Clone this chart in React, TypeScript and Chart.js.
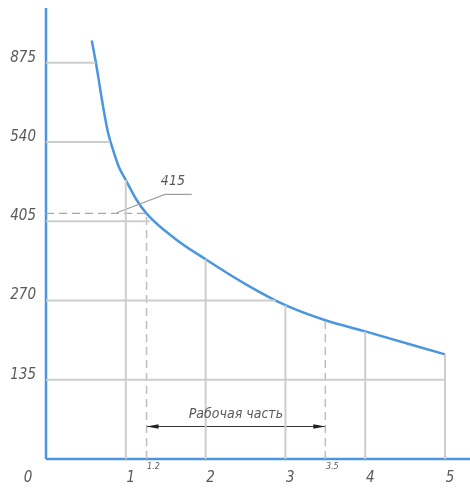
import React, { useEffect, useRef } from "react";
import { Chart, registerables } from "chart.js";

Chart.register(...registerables);

// X axis ticks (units along the horizontal axis)
const xTicks = [0, 1, 2, 3, 4, 5];
const xTickLabels = ["0", "1", "2", "3", "4", "5"];
// Y axis: equally spaced levels with their printed values
const yLevels = [1, 2, 3, 4, 5];
const yTickLabels = ["135", "270", "405", "540", "875"];

// Main curve (x in axis units, y in level units)
const curveX = [0.573, 0.627, 0.677, 0.727, 0.777, 0.84, 0.915, 1.0, 1.128, 1.266, 1.617, 2.0, 2.494, 3.0, 3.5, 4.0, 5.0];
const curveY = [5.28, 4.99, 4.68, 4.38, 4.12, 3.9, 3.68, 3.52, 3.28, 3.09, 2.78, 2.52, 2.21, 1.94, 1.75, 1.61, 1.32];

// Horizontal reference lines: level -> x where they stop
const hLineLevels = [1, 2, 3, 4, 5];
const hLineEnds = [5.0, 2.88, 1.3, 0.8, 0.62];
// Vertical reference lines: x -> height where they stop (on the curve)
const vLineX = [1, 2, 3, 4, 5];
const vLineTops = [3.52, 2.52, 1.94, 1.61, 1.32];

// Working part markers (dashed)
const markX = [1.26, 3.5];
const markTops = [3.1, 1.75];
const markLabels = ["1.2", "3.5"];
const level415 = 3.1;
const label415 = "415";
const leaderX = [0.886, 1.491, 1.826];
const leaderY = [3.106, 3.338, 3.338];
const arrowLevel = 0.41;
const workLabel = "Рабочая часть";

const X_MAX = 5.313;
const Y_MAX = 5.69;

const GRID = "#cdcdcd";
const BLUE = "#4a96df";
const TEXT = "#5a5a5a";

function seg(points: { x: number; y: number }[], color: string, width: number, dash: number[] = []) {
  return {
    type: "line" as const,
    data: points,
    borderColor: color,
    borderWidth: width,
    borderDash: dash,
    pointRadius: 0,
    fill: false,
    tension: 0,
    clip: false as any,
  };
}

export default function App() {
  const ref = useRef<HTMLCanvasElement>(null);

  useEffect(() => {
    if (!ref.current) return;
    const datasets: any[] = [];

    hLineLevels.forEach((lv, i) => {
      datasets.push(seg([{ x: 0, y: lv }, { x: hLineEnds[i], y: lv }], GRID, 2));
    });
    vLineX.forEach((vx, i) => {
      datasets.push(seg([{ x: vx, y: 0 }, { x: vx, y: vLineTops[i] }], GRID, 2));
    });
    markX.forEach((mx, i) => {
      datasets.push(seg([{ x: mx, y: 0 }, { x: mx, y: markTops[i] }], "#bdbdbd", 1.5, [8, 5]));
    });
    datasets.push(seg([{ x: 0, y: level415 }, { x: markX[0], y: level415 }], "#a8a8a8", 1.2, [8, 5]));
    datasets.push(seg(leaderX.map((x, i) => ({ x, y: leaderY[i] })), "#a0a0a0", 1.2));
    datasets.push(seg([{ x: markX[0], y: arrowLevel }, { x: markX[1], y: arrowLevel }], "#333", 1));
    // axes
    datasets.push(seg([{ x: 0, y: 0 }, { x: 0, y: Y_MAX }], BLUE, 2.5));
    datasets.push(seg([{ x: 0, y: 0 }, { x: X_MAX, y: 0 }], BLUE, 2.5));
    // curve
    datasets.push({
      type: "line",
      data: curveX.map((x, i) => ({ x, y: curveY[i] })),
      borderColor: BLUE,
      borderWidth: 2.5,
      pointRadius: 0,
      fill: false,
      cubicInterpolationMode: "monotone",
      clip: false,
    });

    const labelsPlugin = {
      id: "labels",
      afterDatasetsDraw(chart: any) {
        const { ctx, scales } = chart;
        const xs = scales.x;
        const ys = scales.y;
        const font = (s: number) => `italic ${s}px "DejaVu Sans Condensed", "Liberation Sans Narrow", "Liberation Sans", sans-serif`;
        ctx.save();
        ctx.fillStyle = TEXT;
        // y labels
        ctx.font = font(15);
        ctx.textAlign = "right";
        ctx.textBaseline = "alphabetic";
        yLevels.forEach((lv, i) => {
          ctx.fillText(yTickLabels[i], 36, ys.getPixelForValue(lv) - 1);
        });
        // x labels
        ctx.textAlign = "center";
        ctx.textBaseline = "middle";
        xTicks.forEach((v, i) => {
          const off = v === 0 ? -18 : 5;
          ctx.fillText(xTickLabels[i], xs.getPixelForValue(v) + off, ys.getPixelForValue(0) + 19);
        });
        // small marker labels
        ctx.font = font(9);
        markX.forEach((mx, i) => {
          ctx.fillText(markLabels[i], xs.getPixelForValue(mx) + 7, ys.getPixelForValue(0) + 8);
        });
        // 415 label
        ctx.font = font(14);
        ctx.fillText(label415, xs.getPixelForValue(1.59), ys.getPixelForValue(leaderY[1]) - 13);
        // working part label
        ctx.font = font(14);
        const ax0 = xs.getPixelForValue(markX[0]);
        const ax1 = xs.getPixelForValue(markX[1]);
        const ay = ys.getPixelForValue(arrowLevel);
        ctx.fillText(workLabel, (ax0 + ax1) / 2, ay - 12);
        // arrow heads
        ctx.fillStyle = "#222";
        ctx.beginPath();
        ctx.moveTo(ax0, ay);
        ctx.lineTo(ax0 + 12, ay - 2.2);
        ctx.lineTo(ax0 + 12, ay + 2.2);
        ctx.closePath();
        ctx.fill();
        ctx.beginPath();
        ctx.moveTo(ax1, ay);
        ctx.lineTo(ax1 - 12, ay - 2.2);
        ctx.lineTo(ax1 - 12, ay + 2.2);
        ctx.closePath();
        ctx.fill();
        ctx.restore();
      },
    };

    const chart = new Chart(ref.current, {
      type: "line",
      data: { datasets },
      options: {
        animation: false,
        responsive: false,
        maintainAspectRatio: false,
        layout: { padding: { left: 46, right: 0, top: 8, bottom: 29 } },
        plugins: { legend: { display: false }, tooltip: { enabled: false } },
        scales: {
          x: { type: "linear", min: 0, max: X_MAX, display: false },
          y: { type: "linear", min: 0, max: Y_MAX, display: false },
        },
      },
      plugins: [labelsPlugin],
    });
    return () => chart.destroy();
  }, []);

  return (
    <div style={{ position: "absolute", left: 0, top: 0, width: 470, height: 488, background: "#fff" }}>
      <canvas ref={ref} width={470} height={488} style={{ width: 470, height: 488, display: "block" }} />
    </div>
  );
}
